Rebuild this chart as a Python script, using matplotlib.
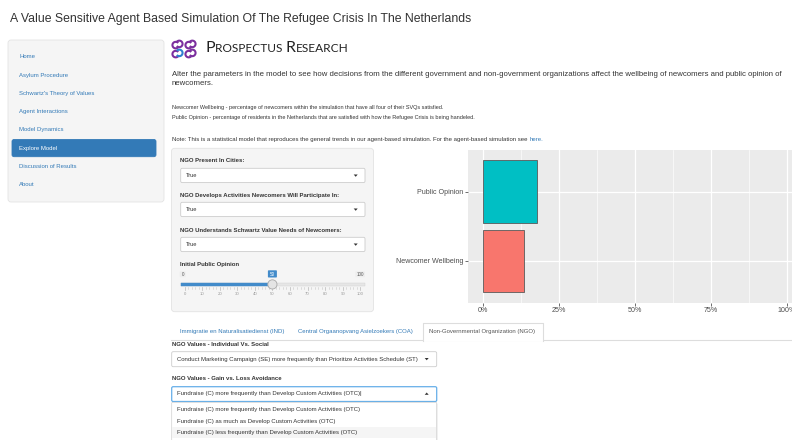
import matplotlib.pyplot as plt
from matplotlib.patches import FancyBboxPatch, Rectangle, Circle, Polygon, Arc
import numpy as np

plt.rcParams['font.family'] = ['Liberation Sans', 'DejaVu Sans']

# ---- chart data ----
categories = ['Newcomer Wellbeing', 'Public Opinion']
values = [0.133, 0.176]
bar_colors = ['#F8766D', '#00BFC4']
x_ticks = [0, 0.25, 0.5, 0.75, 1.0]
x_minor = [0.125, 0.375, 0.625, 0.875]

# ---- page content ----
page_title = 'A Value Sensitive Agent Based Simulation Of The Refugee Crisis In The Netherlands'
menu_items = ['Home', 'Asylum Procedure', "Schwartz's Theory of Values", 'Agent Interactions',
              'Model Dynamics', 'Explore Model', 'Discussion of Results', 'About']
active_item = 'Explore Model'
intro = ['Alter the parameters in the model to see how decisions from the different government and '
         'non-government organizations affect the wellbeing of newcomers and public opinion of',
         'newcomers.']
definitions = ['Newcomer Wellbeing - percentage of newcomers within the simulation that have all four of their SVQs satisfied.',
               'Public Opinion - percentage of residents in the Netherlands that are satisfied with how the Refugee Crisis is being handeled.']
note = 'Note: This is a statistical model that reproduces the general trends in our agent-based simulation. For the agent-based simulation see'
note_link = 'here.'
select_labels = ['NGO Present In Cities:', 'NGO Develops Activities Newcomers Will Participate In:',
                 'NGO Understands Schwartz Value Needs of Newcomers:']
select_values = ['True', 'True', 'True']
slider_label = 'Initial Public Opinion'
slider_min, slider_max, slider_value = 0, 100, 50
slider_ticks = list(range(0, 101, 10))
tab_names = ['Immigratie en Naturalisatiedienst (IND)', 'Central Orgaanopvang Asielzoekers (COA)',
             'Non-Governmental Organization (NGO)']
ngo_labels = ['NGO Values - Individual Vs. Social', 'NGO Values - Gain vs. Loss Avoidance']
ngo_values = ['Conduct Marketing Campaign (SE) more frequently than Prioritize Activities Schedule (ST)',
              'Fundraise (C) more frequently than Develop Custom Activities (OTC)']
ngo_options = ['Fundraise (C) more frequently than Develop Custom Activities (OTC)',
               'Fundraise (C) as much as Develop Custom Activities (OTC)',
               'Fundraise (C) less frequently than Develop Custom Activities (OTC)']

LINK = '#337ab7'
TXT = '#333333'

fig = plt.figure(figsize=(7.92, 4.40), dpi=100)
page = fig.add_axes([0, 0, 1, 1])
page.set_xlim(0, 792)
page.set_ylim(440, 0)
page.axis('off')
renderer = fig.canvas.get_renderer()


def size_for(s, w, **kw):
    t = page.text(0, 0, s, fontsize=10, **kw)
    bw = t.get_window_extent(renderer).width
    t.remove()
    return 10 * w / bw


def put(x, y, s, size=5, **kw):
    kw.setdefault('va', 'center')
    kw.setdefault('color', TXT)
    return page.text(x, y, s, fontsize=size, **kw)


def box(x0, y0, x1, y1, fc='white', ec='#cccccc', lw=0.6, r=1.5, z=1):
    p = FancyBboxPatch((x0, y0), x1 - x0, y1 - y0,
                       boxstyle=f'round,pad=0,rounding_size={r}',
                       fc=fc, ec=ec, lw=lw, zorder=z)
    page.add_patch(p)


def caret(x, y, up=False, z=3):
    d = -1 if up else 1
    page.add_patch(Polygon([(x - 2, y - d), (x + 2, y - d), (x, y + 1.3 * d)],
                           closed=True, fc='#333333', ec='none', zorder=z))


# title
put(10, 19, page_title, size=size_for(page_title, 462))

# sidebar
box(8, 40, 164, 202, fc='#f5f5f5', ec='#e3e3e3', r=3)
menu_y = [56.5, 75, 93.2, 111.5, 129.6, 148.2, 166.6, 185]
menu_sz = size_for(menu_items[2], 76)
for name, yy in zip(menu_items, menu_y):
    if name == active_item:
        box(12, yy - 8.7, 156, yy + 8.5, fc=LINK, ec=LINK, r=2, z=2)
        put(19, yy, name, size=menu_sz, color='white', zorder=3)
    else:
        put(19, yy, name, size=menu_sz, color=LINK)

# logo
cells = [(177.5, 44.5, '#7b2f9e'), (190.5, 44.5, '#7b2f9e'),
         (177.5, 53.5, '#2e7fd0'), (190.5, 53.5, '#7b2f9e')]
for cx, cy, c in cells:
    page.add_patch(Arc((cx - 1.8, cy + 0.6), 6.5, 6.5, theta1=40, theta2=320, color='#7b2f9e', lw=1.5))
    page.add_patch(Arc((cx + 1.8, cy - 0.6), 6.5, 6.5, theta1=220, theta2=500, color=c, lw=1.5))

# small caps company name
xx = 205.5
for piece, big in [('P', True), ('ROSPECTUS ', False), ('R', True), ('ESEARCH', False)]:
    t = put(xx, 52.3, piece, size=11.5 if big else 8.6, va='baseline', color='#222222',
            family=['Lato', 'DejaVu Sans'])
    xx += t.get_window_extent(renderer).width

# intro text
intro_sz = size_for(intro[0], 611)
put(172, 74.5, intro[0], size=intro_sz)
put(172, 83.5, intro[1], size=intro_sz)
def_sz = size_for(definitions[1], 300)
put(172, 107, definitions[0], size=def_sz)
put(172, 117.5, definitions[1], size=def_sz)
note_sz = size_for(note + ' ' + note_link, 373)
t = put(172, 141, note, size=note_sz, va='baseline')
gap = 0.28 * note_sz * 100 / 72
put(172 + t.get_window_extent(renderer).width + gap, 141, note_link, size=note_sz,
    color=LINK, va='baseline')

# left well with inputs
box(171.5, 148.3, 373.5, 311.7, fc='#f5f5f5', ec='#e3e3e3', r=3)
lab_sz = size_for(select_labels[1], 161, weight='bold')
lab_y = [160.7, 195.5, 230]
sel_top = [168.3, 202.3, 237.3]
for lab, val, ly, st in zip(select_labels, select_values, lab_y, sel_top):
    put(180.5, ly, lab, size=lab_sz, weight='bold')
    box(180.7, st, 365, st + 14.3, r=1.5)
    put(186, st + 7.2, val, size=lab_sz * 0.95)
    caret(355.7, st + 7.2)

put(180.5, 264.3, slider_label, size=lab_sz, weight='bold')
sx0, sx1 = 184.5, 360.3
def sx(v):
    return sx0 + (v - slider_min) / (slider_max - slider_min) * (sx1 - sx0)
page.add_patch(Rectangle((181, 282.7), 184, 3.4, fc='#e6e6e6', ec='#d0d0d0', lw=0.3, zorder=2))
page.add_patch(Rectangle((181, 282.7), sx(slider_value) - 181, 3.4, fc='#428bca', ec='#428bca', lw=0.3, zorder=3))
page.add_patch(Circle((sx(slider_value), 284.4), 4.6, fc='#e4e4e4', ec='#a8a8a8', lw=0.6, zorder=4))
tick_sz = size_for('100', 7.5)
box(179.7, 271.3, 185.7, 277.2, fc='#eeeeee', ec='none', r=0.8, z=2)
put(182.7, 274.3, str(slider_min), size=tick_sz, ha='center', color='#555555', zorder=3)
box(355.3, 271.3, 365, 277.2, fc='#eeeeee', ec='none', r=0.8, z=2)
put(360.1, 274.3, str(slider_max), size=tick_sz, ha='center', color='#555555', zorder=3)
box(sx(slider_value) - 4.5, 270.3, sx(slider_value) + 4.5, 277.5, fc='#428bca', ec='none', r=0.8, z=2)
put(sx(slider_value), 274, str(slider_value), size=tick_sz, ha='center', color='white', zorder=3)
for v in slider_ticks:
    page.plot([sx(v), sx(v)], [287, 290], color='#b8b8b8', lw=0.5)
    put(sx(v), 294, str(v), size=tick_sz * 0.95, ha='center', color='#999999')
for v in np.arange(0, 100, 2):
    if v % 10:
        page.plot([sx(v), sx(v)], [287, 288.6], color='#c8c8c8', lw=0.4)

# tabs
page.plot([171, 792], [340.5, 340.5], color='#dddddd', lw=0.8, zorder=1)
page.add_patch(Rectangle((423.3, 322.7), 120, 18.3, fc='white', ec='none', zorder=2))
page.plot([423.3, 423.3, 543.3, 543.3], [341, 322.7, 322.7, 341], color='#dddddd', lw=0.8, zorder=3)
tab_sz = size_for(tab_names[0], 104)
tab_x = [180, 297.7, 429.3]
for name, tx in zip(tab_names, tab_x):
    col = '#555555' if name == tab_names[-1] else LINK
    put(tx, 331.8, name, size=tab_sz, color=col, zorder=4)

# NGO selects
put(172, 344.5, ngo_labels[0], size=lab_sz, weight='bold')
box(171.7, 351.7, 436.7, 366.7, r=1.5)
sel_sz = size_for(ngo_values[0], 243.5)
put(177.3, 359, ngo_values[0], size=sel_sz)
caret(426.7, 359)

put(172, 379, ngo_labels[1], size=lab_sz, weight='bold')
box(171.7, 386.7, 436.7, 401.5, ec='#66afe9', lw=0.9, r=1.5, z=3)
put(177.3, 393.8, ngo_values[1] + '|', size=sel_sz, zorder=4)
caret(426.7, 393.8, up=True, z=4)

# dropdown list
box(172.5, 403.3, 437.5, 446, fc='#e6e6e6', ec='none', r=1, z=4)
box(171.7, 402.3, 436.7, 445, fc='white', ec='#d0d0d0', lw=0.5, r=1, z=5)
page.add_patch(Rectangle((172.2, 426.7), 264, 11.6, fc='#f5f5f5', ec='none', zorder=6))
for opt, oy in zip(ngo_options, [410, 421, 432.3]):
    put(177.3, oy, opt, size=sel_sz, zorder=7)

# ggplot-style bar chart
x_lo, x_hi = -0.05, 1.05
px0, px1 = 468, 802
py0, py1 = 150, 302.6
chart = fig.add_axes([px0 / 792, 1 - py1 / 440, (px1 - px0) / 792, (py1 - py0) / 440])
ypos = np.arange(1, len(categories) + 1)
chart.barh(ypos, values, height=0.9, color=bar_colors, edgecolor='#5a5a5a', linewidth=0.6, zorder=3)
chart.set_xlim(x_lo, x_hi)
chart.set_ylim(0.4, len(categories) + 0.6)
chart.set_facecolor('#EBEBEB')
for s in chart.spines.values():
    s.set_visible(False)
chart.set_xticks(x_ticks, [f'{int(v * 100)}%' for v in x_ticks])
chart.set_xticks(x_minor, minor=True)
chart.set_yticks(ypos, categories)
chart.grid(which='major', color='white', lw=0.9, zorder=1)
chart.grid(which='minor', axis='x', color='white', lw=0.45, zorder=1)
chart.tick_params(which='major', length=2, width=0.5, color='#333333', labelcolor='#4D4D4D',
                  labelsize=size_for(categories[0], 67), pad=1.2)
chart.tick_params(which='minor', length=0)
chart.set_axisbelow(True)

fig.savefig('out.png', dpi=100)
